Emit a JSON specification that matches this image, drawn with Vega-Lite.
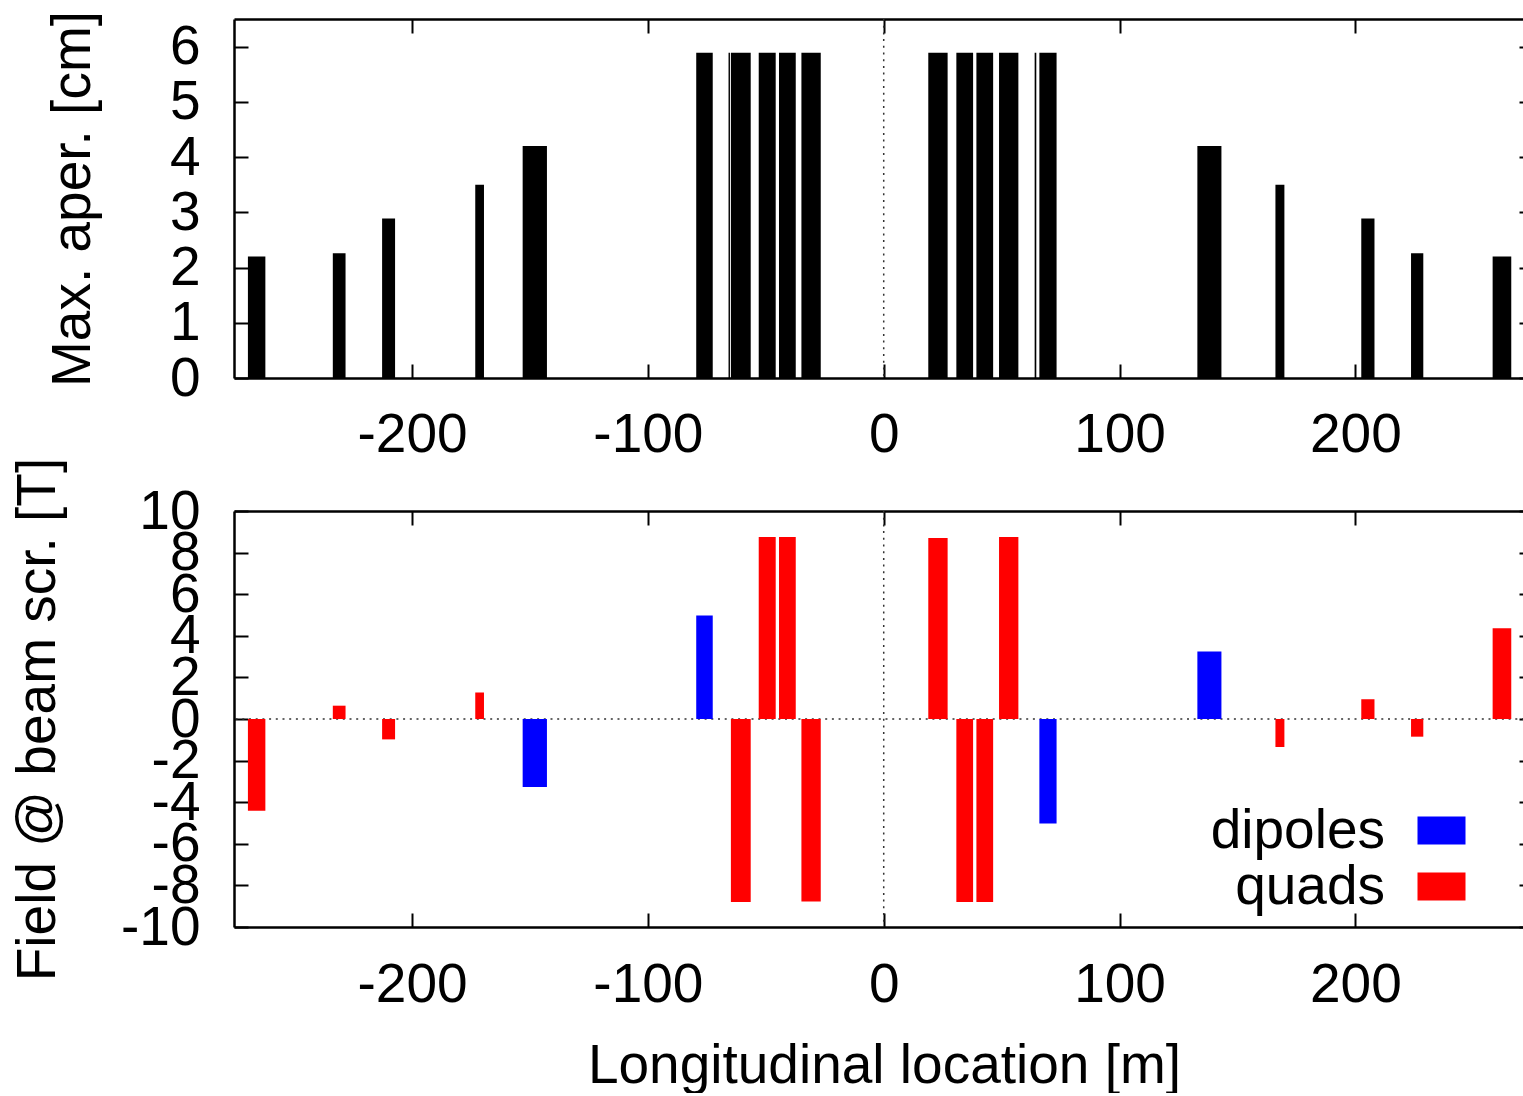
{
  "$schema": "https://vega.github.io/schema/vega-lite/v6.json",
  "padding": {"left": 10, "top": 10, "right": 0, "bottom": 0},
  "background": "white",
  "config": {
    "font": "Liberation Sans",
    "view": {"stroke": null},
    "axis": {
      "labelFont": "Liberation Sans",
      "titleFont": "Liberation Sans",
      "labelColor": "black",
      "titleColor": "black",
      "titleFontWeight": "normal",
      "domainColor": "black",
      "tickColor": "black",
      "domainWidth": 2.5,
      "tickWidth": 2,
      "grid": false,
      "zindex": 1,
      "labelFontSize": 55,
      "titleFontSize": 55,
      "labelOverlap": false,
      "labelBound": false,
      "labelFlush": false
    },
    "legend": {"labelFont": "Liberation Sans", "labelColor": "black"}
  },
  "datasets": {
    "elements": [
      {"s": -269.6, "e": -262.2, "aper": 2.20, "field": -4.41, "type": "quads"},
      {"s": -233.6, "e": -228.2, "aper": 2.26, "field": 0.64, "type": "quads"},
      {"s": -212.7, "e": -207.2, "aper": 2.89, "field": -0.98, "type": "quads"},
      {"s": -173.2, "e": -169.5, "aper": 3.50, "field": 1.28, "type": "quads"},
      {"s": -153.1, "e": -142.8, "aper": 4.20, "field": -3.27, "type": "dipoles"},
      {"s": -79.5, "e": -72.5, "aper": 5.89, "field": 4.97, "type": "dipoles"},
      {"s": -65.8, "e": -65.2, "aper": 5.89, "field": null, "type": "other"},
      {"s": -64.8, "e": -56.4, "aper": 5.89, "field": -8.80, "type": "quads"},
      {"s": -53.0, "e": -45.8, "aper": 5.89, "field": 8.75, "type": "quads"},
      {"s": -44.4, "e": -37.3, "aper": 5.89, "field": 8.75, "type": "quads"},
      {"s": -34.9, "e": -26.7, "aper": 5.89, "field": -8.77, "type": "quads"},
      {"s": 18.9, "e": 27.1, "aper": 5.89, "field": 8.70, "type": "quads"},
      {"s": 30.8, "e": 37.9, "aper": 5.89, "field": -8.80, "type": "quads"},
      {"s": 39.3, "e": 46.4, "aper": 5.89, "field": -8.80, "type": "quads"},
      {"s": 48.9, "e": 57.1, "aper": 5.89, "field": 8.75, "type": "quads"},
      {"s": 64.0, "e": 64.7, "aper": 5.89, "field": null, "type": "other"},
      {"s": 66.0, "e": 73.3, "aper": 5.89, "field": -5.02, "type": "dipoles"},
      {"s": 133.0, "e": 143.2, "aper": 4.20, "field": 3.24, "type": "dipoles"},
      {"s": 166.1, "e": 169.9, "aper": 3.50, "field": -1.35, "type": "quads"},
      {"s": 202.5, "e": 208.1, "aper": 2.89, "field": 0.95, "type": "quads"},
      {"s": 223.6, "e": 228.8, "aper": 2.26, "field": -0.85, "type": "quads"},
      {"s": 258.2, "e": 266.1, "aper": 2.20, "field": 4.36, "type": "quads"}
    ],
    "zero": [{"z": 0}]
  },
  "bounds": "flush",
  "spacing": 133,
  "vconcat": [
    {
      "width": 1290,
      "height": 359,
      "layer": [
        {
          "data": {"name": "zero"},
          "mark": {"type": "rule", "color": "#333333", "strokeDash": [2, 4.7], "strokeWidth": 1.5},
          "encoding": {
            "x": {"field": "z", "type": "quantitative", "scale": {"domain": [-275.5, 271.5], "nice": false, "zero": false},
              "axis": {"orient": "top", "values": [-200, -100, 0, 100, 200], "labels": false, "title": null, "tickSize": -14}}
          }
        },
        {
          "data": {"name": "zero"},
          "mark": {"type": "rule", "opacity": 0},
          "encoding": {
            "y": {"field": "z", "type": "quantitative", "scale": {"domain": [0, 6.5], "nice": false},
              "axis": {"orient": "right", "values": [0, 1, 2, 3, 4, 5, 6], "labels": false, "domain": false, "title": null, "tickSize": -5}}
          }
        },
        {
          "data": {"name": "elements"},
          "mark": {"type": "rect", "color": "black"},
          "encoding": {
            "x": {"field": "s", "type": "quantitative", "scale": {"domain": [-275.5, 271.5], "nice": false, "zero": false},
              "axis": {"orient": "bottom", "values": [-200, -100, 0, 100, 200], "title": null, "tickSize": -14, "labelPadding": 44, "labelExpr": "'' + datum.value"}},
            "x2": {"field": "e"},
            "y": {"field": "aper", "type": "quantitative", "scale": {"domain": [0, 6.5], "nice": false},
              "axis": {"orient": "left", "values": [0, 1, 2, 3, 4, 5, 6], "title": "Max. aper. [cm]", "tickSize": -14, "labelPadding": 48, "titlePadding": 68, "labelExpr": "'' + datum.value"}},
            "y2": {"datum": 0}
          }
        }
      ],
      "resolve": {"axis": {"x": "independent", "y": "independent"}}
    },
    {
      "width": 1290,
      "height": 416,
      "layer": [
        {
          "data": {"name": "zero"},
          "mark": {"type": "rule", "color": "#333333", "strokeDash": [2, 4.7], "strokeWidth": 1.5},
          "encoding": {
            "x": {"field": "z", "type": "quantitative", "scale": {"domain": [-275.5, 271.5], "nice": false, "zero": false},
              "axis": {"orient": "top", "values": [-200, -100, 0, 100, 200], "labels": false, "title": null, "tickSize": -14}}
          }
        },
        {
          "data": {"name": "zero"},
          "mark": {"type": "rule", "color": "#333333", "strokeDash": [2, 4.7], "strokeWidth": 1.5},
          "encoding": {
            "y": {"field": "z", "type": "quantitative", "scale": {"domain": [-10, 10], "nice": false},
              "axis": {"orient": "right", "values": [-10, -8, -6, -4, -2, 0, 2, 4, 6, 8, 10], "labels": false, "domain": false, "title": null, "tickSize": -5}}
          }
        },
        {
          "data": {"name": "elements"},
          "transform": [{"filter": "isValid(datum.field)"}],
          "mark": {"type": "rect"},
          "encoding": {
            "x": {"field": "s", "type": "quantitative", "scale": {"domain": [-275.5, 271.5], "nice": false, "zero": false},
              "axis": {"orient": "bottom", "values": [-200, -100, 0, 100, 200], "title": "Longitudinal location [m]", "tickSize": -14, "labelPadding": 45, "titlePadding": 27, "titleX": 650, "labelExpr": "'' + datum.value"}},
            "x2": {"field": "e"},
            "y": {"field": "field", "type": "quantitative", "scale": {"domain": [-10, 10], "nice": false},
              "axis": {"orient": "left", "values": [-10, -8, -6, -4, -2, 0, 2, 4, 6, 8, 10], "title": "Field @ beam scr. [T]", "tickSize": -14, "labelPadding": 48, "titlePadding": 54, "labelExpr": "'' + datum.value"}},
            "y2": {"datum": 0},
            "color": {"field": "type", "type": "nominal",
              "scale": {"domain": ["dipoles", "quads"], "range": ["#0000ff", "#ff0000"]},
              "legend": {"orient": "none", "legendX": 1180, "legendY": 784, "title": null, "labelFontSize": 55, "labelAlign": "right", "labelOffset": -84, "labelLimit": 500, "symbolType": "M-1,-0.583H1V0.583H-1Z", "symbolSize": 2304, "symbolStrokeWidth": 0, "symbolOpacity": 1, "rowPadding": 0}}
          }
        }
      ],
      "resolve": {"axis": {"x": "independent", "y": "independent"}}
    }
  ]
}
